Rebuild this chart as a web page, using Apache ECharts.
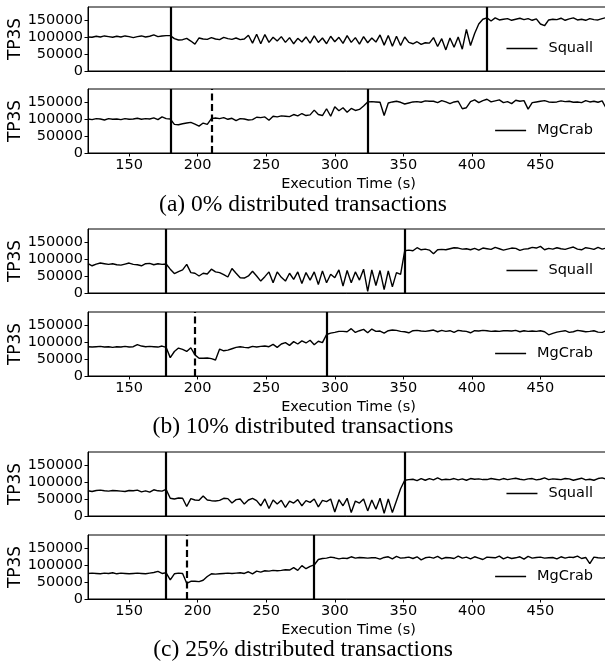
<!DOCTYPE html>
<html>
<head>
<meta charset="utf-8">
<script src="https://cdn.jsdelivr.net/npm/echarts@6/dist/echarts.min.js"></script>
<style>
  html, body { margin: 0; padding: 0; background: #fff; }
  #chart { width: 605px; height: 670px; }
</style>
</head>
<body>
<div id="chart"></div>
<script>
// sample times (s), shared by every series
let times = [120,123,126,129,132,135,138,141,144,147,150,153,156,159,162,165,168,171,174,177,
  180,183,186,189,192,195,198,201,204,207,210,213,216,219,222,225,228,231,234,237,
  240,243,246,249,252,255,258,261,264,267,270,273,276,279,282,285,288,291,294,297,
  300,303,306,309,312,315,318,321,324,327,330,333,336,339,342,345,348,351,354,357,
  360,363,366,369,372,375,378,381,384,387,390,393,396,399,402,405,408,411,414,417,
  420,423,426,429,432,435,438,441,444,447,450,453,456,459,462,465,468,471,474,477,
  480,483,486,489,492,495,498];

// throughput in thousands of TP3S
let squall0 = [100,99,102,100,103,101,99,102,100,103,101,98,101,103,100,102,106,101,103,104,104,
  95,91,92,96,88,79,97,94,93,98,94,92,99,95,93,97,92,94,
  105,82,108,80,107,84,99,88,
  101,84,98,80,96,85,100,82,103,84,97,80,102,86,99,81,104,84,98,79,101,83,97,85,
  106,76,104,73,102,75,100,
  84,80,86,78,83,82,
  98,72,95,62,97,70,100,64,122,
  75,110,138,152,156,
  147,156,150,152,154,149,152,155,151,154,149,153,138,133,150,152,151,155,149,153,156,150,152,149,154,151,150,154,157];
let mgcrab0 = [100,98,101,100,97,101,99,100,98,101,99,100,102,99,101,100,103,98,106,101,100,
  84,83,86,88,90,85,79,88,84,101,
  103,101,104,99,102,95,101,100,97,98,
  105,104,106,96,108,106,109,108,107,113,
  109,116,110,112,126,113,110,130,108,136,
  124,133,120,131,125,128,138,150,
  151,150,149,110,147,150,152,149,144,147,150,151,149,153,152,152,148,154,150,145,
  150,152,130,133,151,156,148,154,158,150,153,156,148,151,145,155,152,154,129,148,
  150,152,154,150,149,150,153,151,152,149,150,148,154,150,152,149,153,131];
let squall10 = [86,80,85,88,86,84,86,83,82,85,88,84,83,80,86,87,83,86,84,85,
  70,57,63,68,84,60,58,50,58,56,70,62,60,54,47,72,58,45,44,50,64,50,35,48,
  62,30,62,46,35,58,40,62,28,60,38,62,25,65,30,55,45,68,20,66,30,62,38,70,5,68,22,66,10,65,18,60,55,
  124,126,124,133,127,129,126,115,127,128,127,130,133,132,129,130,127,131,126,132,
  130,128,134,130,126,129,132,131,125,129,130,134,132,137,127,131,129,133,130,128,
  132,135,129,127,133,131,128,134,129,132];
let mgcrab10 = [86,85,86,87,85,86,84,86,85,87,85,86,92,88,86,87,86,85,88,84,
  54,72,82,78,72,83,62,
  52,52,53,51,47,79,74,
  76,80,84,86,84,83,87,85,87,88,86,93,84,94,98,90,101,94,103,97,105,92,102,98,
  122,
  126,128,131,131,130,139,128,133,137,127,138,131,132,126,133,135,134,131,130,127,
  133,134,132,131,133,135,130,134,131,133,128,134,132,131,127,133,132,134,133,131,
  132,131,133,133,132,134,130,133,131,132,131,133,130,121,125,129,131,133,128,130,
  134,132,130,131,133,129,128,133];
let squall25 = [74,72,75,76,74,73,75,74,73,72,75,74,76,71,74,70,77,74,73,78,
  52,50,53,52,28,51,47,46,59,47,45,44,46,52,51,38,48,50,35,47,52,45,30,
  50,22,47,35,46,25,44,38,48,30,45,40,50,27,46,42,50,12,48,30,52,10,44,38,50,15,47,20,52,8,50,
  10,45,80,105,
  107,108,104,110,105,110,106,112,106,108,107,110,106,109,105,110,108,109,107,107,
  110,108,106,110,107,109,111,108,106,109,110,106,108,112,107,109,108,107,110,109,
  105,108,111,106,108,105,110,112,108];
let mgcrab25 = [75,76,75,74,76,75,77,74,76,75,74,75,76,75,74,76,78,81,75,77,
  56,74,76,75,46,52,
  52,51,55,66,74,73,74,75,
  76,75,76,77,75,80,74,82,79,83,82,84,83,84,86,85,92,84,98,
  89,96,100,
  116,119,120,123,121,118,120,119,124,120,122,121,120,121,121,117,122,124,118,125,
  120,121,123,119,124,115,121,123,120,125,118,122,121,119,126,120,123,118,124,120,
  116,123,122,121,126,118,123,119,121,124,117,125,120,122,123,120,121,122,118,124,
  120,123,122,126,119,122,104,123,121,120,122];

// event markers (s)
let squall0Events = [180, 411];
let mgcrab0Events = [180, 324];
let mgcrab0Dashed = [210];
let squall10Events = [177, 351];
let mgcrab10Events = [177, 294];
let mgcrab10Dashed = [198];
let squall25Events = [177, 351];
let mgcrab25Events = [177, 285];
let mgcrab25Dashed = [192];

let xTicks = [150, 200, 250, 300, 350, 400, 450];
let yTicks = [0, 50000, 100000, 150000];
let captions = ['(a) 0% distributed transactions', '(b) 10% distributed transactions', '(c) 25% distributed transactions'];

let panels = [
  { name: 'Squall', values: squall0, solid: squall0Events, dashed: [], top: 7, bottom: false },
  { name: 'MgCrab', values: mgcrab0, solid: mgcrab0Events, dashed: mgcrab0Dashed, top: 89, bottom: true },
  { name: 'Squall', values: squall10, solid: squall10Events, dashed: [], top: 229, bottom: false },
  { name: 'MgCrab', values: mgcrab10, solid: mgcrab10Events, dashed: mgcrab10Dashed, top: 312, bottom: true },
  { name: 'Squall', values: squall25, solid: squall25Events, dashed: [], top: 452, bottom: false },
  { name: 'MgCrab', values: mgcrab25, solid: mgcrab25Events, dashed: mgcrab25Dashed, top: 535, bottom: true }
];

let FONT = 'DejaVu Sans';
let BLACK = '#000';

let chart = echarts.init(document.getElementById('chart'));

let grids = [], xAxes = [], yAxes = [], series = [], legends = [];

panels.forEach((p, i) => {
  grids.push({
    left: 88, top: p.top, width: 521, height: 64,
    containLabel: false, outerBoundsMode: 'none',
    show: true, borderColor: BLACK, borderWidth: 1
  });

  xAxes.push({
    gridIndex: i, type: 'value', min: 120, max: 500,
    axisLine: { show: true, onZero: false, lineStyle: { color: BLACK, width: 1 } },
    axisTick: { show: p.bottom, length: 3.5, customValues: xTicks, lineStyle: { color: BLACK } },
    axisLabel: { show: p.bottom, customValues: xTicks, margin: 5, fontSize: 14.5, fontFamily: FONT, color: BLACK },
    splitLine: { show: false },
    name: p.bottom ? 'Execution Time (s)' : '',
    nameLocation: 'middle', nameGap: 24,
    nameTextStyle: { fontSize: 14.5, fontFamily: FONT, color: BLACK }
  });

  yAxes.push({
    gridIndex: i, type: 'value', min: 0, max: 188000,
    axisLine: { show: true, lineStyle: { color: BLACK, width: 1 } },
    axisTick: { show: true, length: 3.5, customValues: yTicks, lineStyle: { color: BLACK } },
    axisLabel: {
      customValues: yTicks, margin: 5, fontSize: 14.5, fontFamily: FONT, color: BLACK,
      formatter: v => String(v)
    },
    splitLine: { show: false },
    name: 'TP3S', nameLocation: 'middle', nameRotate: 90, nameGap: 64,
    nameMoveOverlap: false,
    nameTextStyle: { fontSize: 17, fontFamily: FONT, color: BLACK }
  });

  let marks = p.solid.map(x => ({ xAxis: x, lineStyle: { type: 'solid' } }))
    .concat(p.dashed.map(x => ({ xAxis: x, lineStyle: { type: [7, 3.5] } })));

  series.push({
    type: 'line', name: p.name, xAxisIndex: i, yAxisIndex: i,
    data: times.map((t, k) => [t, p.values[k] * 1000]),
    symbol: 'none', showSymbol: false,
    lineStyle: { color: BLACK, width: 1.4 },
    itemStyle: { color: BLACK },
    markLine: {
      silent: true, symbol: 'none', animation: false,
      label: { show: false },
      lineStyle: { color: BLACK, width: 2.2 },
      data: marks
    }
  });

  legends.push({
    data: [p.name], right: 12, top: p.top + 42.5 - 8.5,
    icon: 'rect', itemWidth: 31, itemHeight: 1.5, padding: 0,
    selectedMode: false,
    textStyle: { fontSize: 14.5, fontFamily: FONT, color: BLACK, padding: [0, 0, 0, 6] }
  });
});

let captionTops = [205, 427, 650];
let graphics = captions.map((c, i) => ({
  type: 'text', x: 303, y: captionTops[i],
  style: { text: c, font: '23.5px "Liberation Serif"', fill: BLACK, textAlign: 'center', textVerticalAlign: 'middle' }
}));

chart.setOption({
  animation: false,
  backgroundColor: '#fff',
  grid: grids,
  xAxis: xAxes,
  yAxis: yAxes,
  legend: legends,
  series: series,
  graphic: graphics
});
</script>
</body>
</html>
